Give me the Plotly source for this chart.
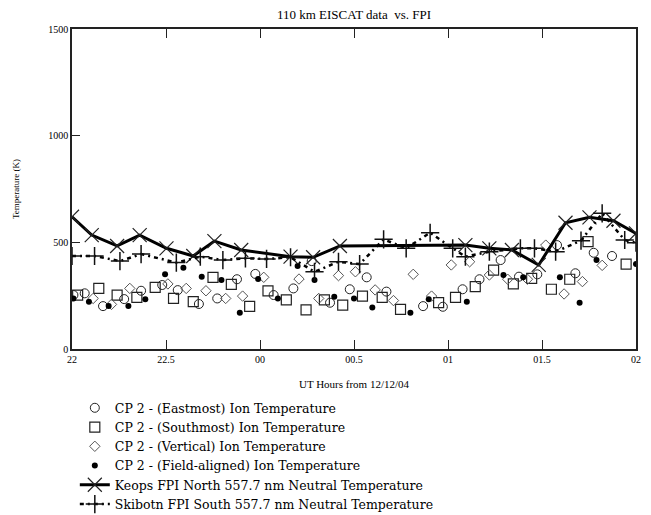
import plotly.graph_objects as go

# Time axis: decimal UT hours after 22:00 on 12/12/04 (values > 24 are after midnight)
tick_vals = [22.0, 22 + 2/3, 22 + 4/3, 24.0, 24 + 2/3, 24 + 4/3, 26.0]
tick_text = ["22", "22.5", "00", "00.5", "01", "01.5", "02"]

# CP 2 - Eastmost ion temperature
east_t = [22.01, 22.09, 22.22, 22.37, 22.49, 22.64, 22.75, 22.90, 23.03, 23.17,
          23.30, 23.43, 23.57, 23.70, 23.83, 23.97, 24.09, 24.23, 24.49, 24.63,
          24.77, 24.89, 25.04, 25.17, 25.30, 25.44, 25.57, 25.70, 25.83]
east_T = [253, 261, 201, 234, 273, 300, 276, 211, 237, 327,
          352, 253, 284, 412, 217, 280, 336, 269, 201, 198,
          280, 327, 417, 339, 350, 487, 355, 451, 436]

# CP 2 - Southmost ion temperature
south_t = [22.04, 22.19, 22.32, 22.46, 22.59, 22.72, 22.86, 23.00, 23.13, 23.26,
           23.39, 23.52, 23.66, 23.79, 23.92, 24.06, 24.20, 24.33, 24.60, 24.72,
           24.86, 24.99, 25.13, 25.26, 25.40, 25.53, 25.66, 25.93]
south_T = [253, 284, 253, 242, 289, 237, 222, 336, 303, 200,
           272, 230, 183, 230, 206, 248, 242, 186, 217, 242,
           292, 370, 305, 331, 280, 327, 503, 398]

# CP 2 - Vertical ion temperature
vert_t = [22.15, 22.28, 22.41, 22.68, 22.81, 22.95, 23.09, 23.21, 23.36, 23.61,
          23.75, 23.89, 24.01, 24.15, 24.28, 24.42, 24.55, 24.69, 24.82, 24.96,
          25.09, 25.23, 25.36, 25.49, 25.62, 25.76]
vert_T = [237, 209, 284, 305, 284, 273, 237, 248, 336, 328,
          237, 344, 362, 277, 227, 350, 248, 394, 409, 347,
          327, 327, 487, 258, 316, 392]

# CP 2 - Field-aligned ion temperature
field_t = [22.01, 22.12, 22.26, 22.40, 22.52, 22.66, 22.79, 22.92, 23.06, 23.19,
           23.32, 23.46, 23.60, 23.72, 23.86, 24.00, 24.13, 24.40, 24.53, 24.80,
           25.06, 25.20, 25.46, 25.60, 25.72, 26.00]
field_T = [237, 222, 201, 201, 233, 350, 381, 339, 323, 170,
           328, 237, 389, 323, 245, 237, 195, 170, 233, 222,
           347, 336, 336, 217, 417, 398]

# Keops FPI North 557.7 nm neutral temperature
keops_t = [22.00, 22.14, 22.32, 22.48, 22.67, 22.86, 23.01, 23.20, 23.55, 23.71,
           23.90, 24.79, 24.96, 25.12, 25.31, 25.50, 25.67, 25.84, 26.00]
keops_T = [620, 534, 483, 534, 472, 436, 506, 464, 433, 430,
           483, 487, 472, 464, 394, 592, 617, 601, 542]

# Skibotn FPI South 557.7 nm neutral temperature
skib_t = [22.00, 22.16, 22.34, 22.49, 22.74, 22.91, 23.07, 23.23, 23.38, 23.55,
          23.72, 23.89, 24.04, 24.21, 24.37, 24.54, 24.70, 24.79, 24.96, 25.18,
          25.28, 25.43, 25.61, 25.76, 25.92, 26.00]
skib_T = [436, 436, 412, 445, 405, 433, 417, 425, 422, 430,
          362, 409, 398, 514, 472, 545, 472, 433, 456, 472,
          472, 456, 508, 636, 511, 498]

serif = "Liberation Serif, Times New Roman, serif"
legend_font = "DejaVu Serif, Liberation Serif, serif"

# The page body has an 8px default margin, so the figure is sized to fit the window.
FIG_W, FIG_H = 643, 507

fig = go.Figure()
fig.add_trace(go.Scatter(
    x=east_t, y=east_T, mode="markers", name="CP 2 - (Eastmost) Ion Temperature",
    marker=dict(symbol="circle-open", size=9, color="#222", line=dict(width=1))))
fig.add_trace(go.Scatter(
    x=south_t, y=south_T, mode="markers", name="CP 2 - (Southmost) Ion Temperature",
    marker=dict(symbol="square-open", size=10, color="#222", line=dict(width=1.2))))
fig.add_trace(go.Scatter(
    x=vert_t, y=vert_T, mode="markers", name="CP 2 - (Vertical) Ion Temperature",
    marker=dict(symbol="diamond-open", size=8, color="#555", line=dict(width=1))))
fig.add_trace(go.Scatter(
    x=field_t, y=field_T, mode="markers", name="CP 2 - (Field-aligned) Ion Temperature",
    marker=dict(symbol="circle", size=6, color="#000")))
fig.add_trace(go.Scatter(
    x=keops_t, y=keops_T, mode="lines+markers",
    name="Keops FPI North 557.7 nm Neutral Temperature",
    line=dict(color="#000", width=3),
    marker=dict(symbol="x-thin-open", size=14, color="#222", line=dict(width=1.2))))
fig.add_trace(go.Scatter(
    x=skib_t, y=skib_T, mode="lines+markers",
    name="Skibotn FPI South 557.7 nm Neutral Temperature",
    line=dict(color="#000", width=2.5, dash="4px,4px,2px,4px"),
    marker=dict(symbol="cross-thin-open", size=13, color="#111", line=dict(width=1.5))))

fig.update_layout(
    width=FIG_W, height=FIG_H,
    margin=dict(l=64, r=15, t=21, b=166, autoexpand=False),
    paper_bgcolor="white", plot_bgcolor="white",
    font=dict(family=serif, color="#000"),
    title=dict(text="110 km EISCAT data  vs. FPI", x=0.5, xref="paper",
               y=1 - 6 / FIG_H, yanchor="middle", font=dict(size=13, family=serif)),
    showlegend=True,
    legend=dict(x=0.005, y=-0.138, xanchor="left", yanchor="top",
                font=dict(size=12.5, family=legend_font), bgcolor="rgba(0,0,0,0)",
                tracegroupgap=0, itemwidth=30),
)
fig.update_xaxes(
    range=[22, 26], tickvals=tick_vals, ticktext=tick_text,
    showline=True, linecolor="#222", linewidth=1.5, mirror="ticks",
    ticks="inside", ticklen=9, tickwidth=1.2, tickcolor="#222",
    showgrid=False, zeroline=False, tickfont=dict(size=10, family=serif),
    title=dict(text="UT Hours from 12/12/04", font=dict(size=11, family=serif), standoff=17),
)
fig.update_yaxes(
    range=[0, 1500], tickvals=[0, 500, 1000, 1500],
    showline=True, linecolor="#222", linewidth=1.5, mirror=True,
    ticks="inside", ticklen=8, tickwidth=1.2, tickcolor="#222",
    showgrid=False, zeroline=False, tickfont=dict(size=10, family=serif),
    title=dict(text="Temperature (K)", font=dict(size=9, family=serif), standoff=27),
)

fig.write_html("out.html")
